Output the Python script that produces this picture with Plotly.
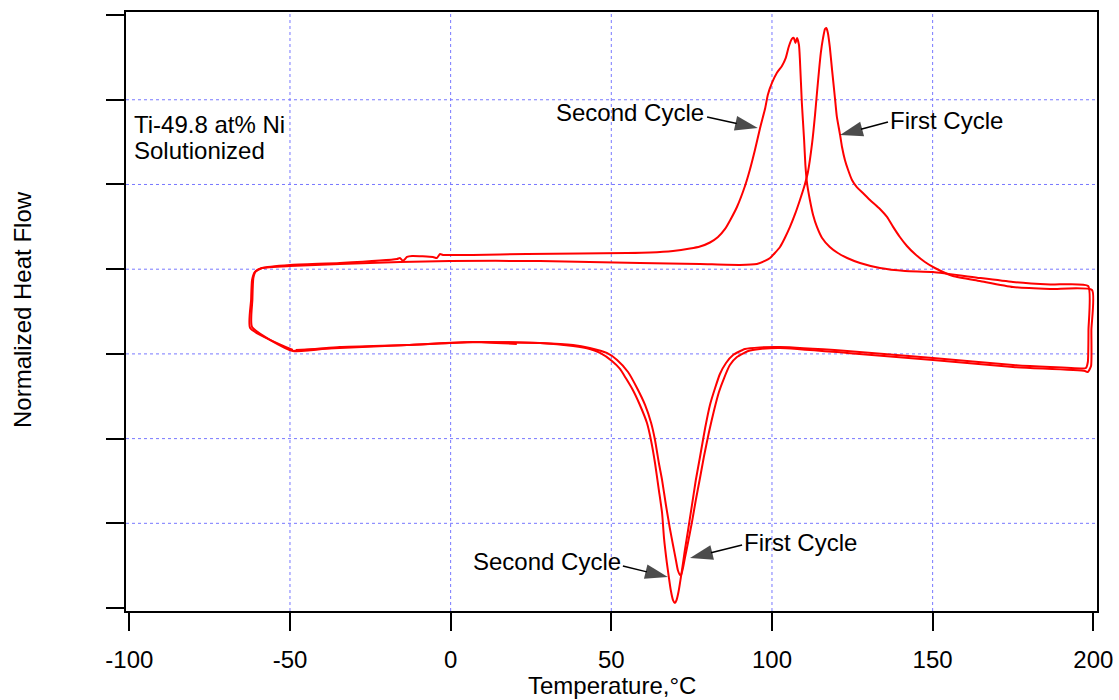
import plotly.graph_objects as go

# ---------------- data (Temperature in °C, normalized heat flow in arbitrary units) ----------------
first_T = [20.6, 6.9, -13.6, -34.5, -49.1, -61.8, -61.7, -61.4, -60.6, -58.7,
           -50.0, -34.5, -15.8, -0.2, 27.8, 58.9, 77.6, 90.0, 95.3, 97.8, 99.4,
           100.9, 102.5, 104.0, 105.6, 107.2, 108.7, 110.0, 111.2, 112.5, 113.4,
           114.0, 114.6, 115.2, 115.9, 116.5, 116.9, 117.4, 118.0, 118.7, 119.6,
           120.2, 121.2, 121.8, 122.7, 123.7, 124.9, 126.4, 128.3, 130.5, 133.6,
           135.8, 137.7, 139.8, 142.0, 144.5, 147.6, 150.7, 156.3, 164.7, 175.0,
           186.6, 199.6, 199.4, 199.3, 198.3, 197.4,
           175.0, 150.1, 123.4, 102.5, 96.3, 92.6, 89.1, 86.9, 85.1, 83.5, 82.0,
           80.4, 78.8, 77.6, 76.3, 75.1, 73.9, 72.9, 72.3, 71.8, 71.4, 70.7, 70.1,
           69.2, 68.2, 67.0, 65.8, 64.8, 63.6, 62.4, 60.5, 58.0, 55.2, 51.8, 48.6,
           43.3, 38.1, 27.8, 6.9, -13.6, -34.5, -49.1]
first_H = [3.117, 3.141, 3.105, 3.081, 3.034, 3.318, 3.636, 3.896, 3.979, 4.014,
           4.038, 4.061, 4.085, 4.097, 4.097, 4.073, 4.061, 4.050, 4.061, 4.097, 4.132,
           4.191, 4.262, 4.368, 4.499, 4.652, 4.817, 4.970, 5.148, 5.490, 5.821,
           6.080, 6.328, 6.553, 6.730, 6.836, 6.848, 6.789, 6.623, 6.352, 6.021,
           5.797, 5.584, 5.443, 5.289, 5.171, 5.053, 4.970, 4.900, 4.817, 4.711,
           4.617, 4.499, 4.380, 4.274, 4.179, 4.085, 4.014, 3.920, 3.861, 3.790,
           3.766, 3.754, 3.282, 2.857, 2.786, 2.798,
           2.845, 2.928, 3.011, 3.070, 3.058, 3.034, 2.963, 2.869, 2.715, 2.550, 2.338,
           2.078, 1.783, 1.535, 1.275, 1.015, 0.779, 0.590, 0.472, 0.401, 0.390, 0.449, 0.567,
           0.744, 0.945, 1.216, 1.511, 1.712, 1.983, 2.184, 2.397, 2.597, 2.786, 2.928, 3.011,
           3.070, 3.105, 3.129, 3.141, 3.105, 3.081, 3.034]

second_T = [-49.1, -62.4, -62.1, -61.8, -60.9, -58.7, -50.0, -34.5, -16.7, -15.8,
            -14.8, -13.6, -12.0, -5.5, -4.3, -3.3, -2.4, 6.9, 23.7, 40.2, 54.9,
            62.1, 69.2, 74.5, 77.6, 80.7, 83.2, 85.4, 87.2, 89.1, 91.6, 93.1, 94.7, 96.3,
            97.9, 98.7, 100.0, 101.5, 103.1, 104.3, 105.2, 106.2, 106.8, 107.3, 107.8,
            108.4, 108.7, 109.3, 110.0, 110.4, 110.9, 111.8, 112.8, 114.0, 115.6,
            118.0, 120.5, 123.4, 127.4, 133.6, 141.4, 150.1, 164.7, 175.0, 186.6,
            198.4, 198.5, 198.3, 197.7, 196.4,
            175.0, 150.1, 123.4, 102.5, 96.3, 91.6, 87.9, 85.7, 83.8, 82.3, 80.7,
            79.2, 77.6, 76.3, 75.1, 73.9, 72.9, 71.9, 70.9, 70.3, 69.8, 69.2, 68.5,
            67.9, 67.3, 66.4, 65.8, 64.8, 63.6, 62.4, 61.1, 58.9, 56.7, 54.5, 52.7,
            50.2, 46.5, 43.3, 38.1, 27.8, 6.9, -13.6, -34.5, -48.2]
second_H = [3.046, 3.306, 3.636, 3.872, 3.967, 4.014, 4.050, 4.073, 4.120, 4.132,
            4.097, 4.144, 4.156, 4.144, 4.132, 4.179, 4.168, 4.168, 4.179, 4.185, 4.191,
            4.197, 4.215, 4.244, 4.268, 4.315, 4.380, 4.475, 4.593, 4.734, 4.982, 5.171, 5.407, 5.667,
            5.903, 6.057, 6.198, 6.316, 6.399, 6.494, 6.623, 6.718, 6.730, 6.671, 6.730,
            6.647, 6.470, 5.962, 5.525, 5.230, 5.018, 4.817, 4.640, 4.499, 4.368,
            4.262, 4.191, 4.132, 4.073, 4.014, 3.979, 3.967, 3.896, 3.849, 3.819,
            3.802, 3.282, 2.904, 2.834, 2.828,
            2.869, 2.952, 3.034, 3.081, 3.076, 3.058, 2.987, 2.893, 2.763, 2.597, 2.397,
            2.125, 1.783, 1.511, 1.216, 0.921, 0.685, 0.425, 0.189, 0.094, 0.059, 0.094, 0.213,
            0.366, 0.531, 0.826, 1.122, 1.393, 1.712, 1.972, 2.184, 2.397, 2.574, 2.715, 2.822,
            2.916, 3.011, 3.058, 3.093, 3.129, 3.141, 3.105, 3.070, 3.046]

x_ticks = [-100, -50, 0, 50, 100, 150, 200]
x_tick_text = ["-100", "-50", "0", "50", "100", "150", "200"]
x_grid = [-50, 0, 50, 100, 150]
y_ticks = [0, 1, 2, 3, 4, 5, 6, 7]
y_grid = [1, 2, 3, 4, 5, 6]

# annotation labels: (text, text_T, text_H, anchor, tail_T, tail_H, tip_T, tip_H)
labels = [
    ("Second Cycle", 79.5, 5.844, "right", 79.8, 5.797, 95.6, 5.667),
    ("First Cycle", 136.1, 5.75, "left", 136.1, 5.738, 121.2, 5.584),
    ("Second Cycle", 53.6, 0.555, "right", 53.6, 0.496, 67.6, 0.366),
    ("First Cycle", 90.7, 0.779, "left", 90.7, 0.744, 74.5, 0.590),
]
sample_lines = ["Ti-49.8 at% Ni", "Solutionized"]

FONT = "Liberation Sans, Arial, sans-serif"
FS = 24
RED = "rgb(255,0,0)"
GRID = "rgb(120,120,255)"

fig = go.Figure()
fig.add_trace(go.Scatter(x=first_T, y=first_H, mode="lines", name="First Cycle",
                         line=dict(color=RED, width=2, shape="spline", smoothing=0.5)))
fig.add_trace(go.Scatter(x=second_T, y=second_H, mode="lines", name="Second Cycle",
                         line=dict(color=RED, width=2, shape="spline", smoothing=0.5)))

for text, tx, ty, anc, x0, y0, x1, y1 in labels:
    fig.add_trace(go.Scatter(x=[x0, x1], y=[y0, y1], mode="lines+markers",
                             line=dict(color="black", width=1.5),
                             marker=dict(symbol="arrow", size=[0, 24], angleref="previous",
                                         color="black", line=dict(width=0)),
                             showlegend=False, hoverinfo="skip"))
    fig.add_annotation(x=tx, y=ty, xref="x", yref="y", text=text, showarrow=False,
                       xanchor=anc, yanchor="middle",
                       font=dict(family=FONT, size=FS, color="black"))

shapes = []
for gx in x_grid:
    shapes.append(dict(type="line", xref="x", yref="paper", x0=gx, x1=gx, y0=0, y1=1,
                       line=dict(color=GRID, width=1, dash="dot"), layer="below"))
for gy in y_grid:
    shapes.append(dict(type="line", xref="paper", yref="y", x0=0, x1=1, y0=gy, y1=gy,
                       line=dict(color=GRID, width=1, dash="dot"), layer="below"))

for i, line in enumerate(sample_lines):
    fig.add_annotation(x=0.006, y=0.813 - 0.045 * i, xref="paper", yref="paper",
                       text=line, showarrow=False, xanchor="left", yanchor="middle",
                       font=dict(family=FONT, size=FS, color="black"))
fig.add_annotation(x=0.5, y=-0.1252, xref="paper", yref="paper", text="Temperature,°C",
                   showarrow=False, xanchor="center", yanchor="middle",
                   font=dict(family=FONT, size=FS, color="black"))
fig.add_annotation(x=-0.1071, y=0.5025, xref="paper", yref="paper", text="Normalized Heat Flow",
                   showarrow=False, textangle=-90, xanchor="center", yanchor="middle",
                   font=dict(family=FONT, size=FS, color="black"))

fig.update_layout(
    width=1119, height=700,
    margin=dict(l=126, r=22, t=12, b=89, autoexpand=False),
    paper_bgcolor="white", plot_bgcolor="white",
    showlegend=False, shapes=shapes,
    font=dict(family=FONT, size=FS, color="black"),
)
fig.update_xaxes(range=[-101.03, 201.15], tickvals=x_ticks, ticktext=x_tick_text,
                 ticks="outside", ticklen=18, automargin=False,
                 tickwidth=2, tickcolor="black", showgrid=False, zeroline=False,
                 showline=True, linecolor="black", linewidth=2, mirror=True,
                 tickfont=dict(family=FONT, size=FS, color="black"), ticklabelstandoff=8)
fig.update_yaxes(range=[-0.035, 7.036], tickvals=y_ticks, ticks="outside", ticklen=18,
                 automargin=False,
                 tickwidth=2, tickcolor="black", showgrid=False, zeroline=False,
                 showline=True, linecolor="black", linewidth=2, mirror=True,
                 showticklabels=False)

fig.write_html("out.html")
